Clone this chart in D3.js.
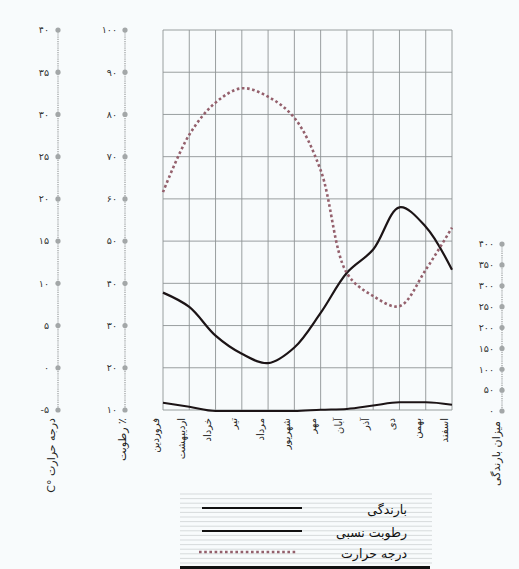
<!DOCTYPE html>
<html><head><meta charset="utf-8">
<script src="https://cdn.jsdelivr.net/npm/d3@7"></script>
<style>body{margin:0;background:#f8fbfc;}svg{display:block;}</style>
</head><body>
<svg id="c" width="519" height="569"></svg>
<script>
const months = ["فروردین","اردیبهشت","خرداد","تیر","مرداد","شهریور","مهر","آبان","آذر","دی","بهمن","اسفند"];
const temperature = [20.8, 27.6, 31.4, 33.1, 32.1, 29.6, 23.4, 11.2, 8.5, 7.3, 11.6, 16.6];
const humidity = [37.8, 34.4, 27.6, 23.3, 21.1, 24.8, 33, 42.5, 48, 58, 53.4, 43.2];
const rainfall = [20, 10, 0, 0, 0, 0, 3, 5, 13, 21, 21, 15];
const tempTicks = [-5, 0, 5, 10, 15, 20, 25, 30, 35, 40];
const humTicks = [10, 20, 30, 40, 50, 60, 70, 80, 90, 100];
const rainTicks = [0, 50, 100, 150, 200, 250, 300, 350, 400];
const legendItems = ["بارندگی", "رطوبت نسبی", "درجه حرارت"];
const titles = {temp: "C° درجه حرارت", hum: "رطوبت ٪", rain: "میزان بارندگی"};

const fa = n => String(n).replace(/\d/g, d => "۰۱۲۳۴۵۶۷۸۹"[d]);
const svg = d3.select("#c");
const FONT = "DejaVu Sans";

const x = d3.scalePoint().domain(months).range([163, 452]);
const yT = d3.scaleLinear().domain([-5, 40]).range([410, 30]);
const yH = d3.scaleLinear().domain([10, 100]).range([410, 30]);
const yR = d3.scaleLinear().domain([0, 400]).range([411, 244]);

// grid
const g = svg.append("g");
g.selectAll("line.h").data(humTicks).join("line")
  .attr("x1", 163).attr("x2", 452).attr("y1", d => yH(d)).attr("y2", d => yH(d))
  .attr("stroke", "#8f9495").attr("stroke-width", 0.9);
g.selectAll("line.v").data(months).join("line")
  .attr("x1", d => x(d)).attr("x2", d => x(d)).attr("y1", 30).attr("y2", 410)
  .attr("stroke", "#8f9495").attr("stroke-width", 0.9);

// dotted vertical axes with dot ticks
function dotAxis(xpos, scale, ticks, labelX) {
  const a = svg.append("g");
  const ext = d3.extent(ticks.map(scale));
  a.append("line").attr("x1", xpos).attr("x2", xpos).attr("y1", ext[0]).attr("y2", ext[1])
    .attr("stroke", "#a0a4a5").attr("stroke-width", 1.3).attr("stroke-dasharray", "1.2,1");
  a.selectAll("circle").data(ticks).join("circle")
    .attr("cx", xpos).attr("cy", d => scale(d)).attr("r", 2.6).attr("fill", "#a3a7a8");
  a.selectAll("text").data(ticks).join("text")
    .attr("x", labelX).attr("y", d => scale(d)).attr("dy", "0.35em")
    .attr("text-anchor", "end").attr("font-family", FONT).attr("font-size", 9.5)
    .attr("fill", "#333").text(d => d < 0 ? "-" + fa(-d) : fa(d));
}
dotAxis(58, yT, tempTicks, 49);
dotAxis(125, yH, humTicks, 117);
dotAxis(502, yR, rainTicks, 494);

// axis titles
function vTitle(xp, yp, txt, size) {
  svg.append("text").attr("transform", `translate(${xp},${yp}) rotate(-90)`)
    .attr("text-anchor", "end").attr("dy", "0.35em").attr("font-family", FONT)
    .attr("font-size", size).attr("fill", "#222").text(txt);
}
vTitle(51, 418, titles.temp, 11);
vTitle(122, 418, titles.hum, 11);
vTitle(496, 421, titles.rain, 11);

// month labels
svg.selectAll("text.m").data(months).join("text")
  .attr("transform", d => `translate(${x(d) - 8},418) rotate(-90)`)
  .attr("text-anchor", "end").attr("dy", "0.35em").attr("font-family", FONT)
  .attr("font-size", 10).attr("fill", "#222").text(d => d);

// lines
svg.append("path").datum(rainfall)
  .attr("d", d3.line().x((d, i) => x(months[i])).y(d => yR(d)).curve(d3.curveMonotoneX))
  .attr("fill", "none").attr("stroke", "#1c1416").attr("stroke-width", 2);
svg.append("path").datum(humidity)
  .attr("d", d3.line().x((d, i) => x(months[i])).y(d => yH(d)).curve(d3.curveCatmullRom))
  .attr("fill", "none").attr("stroke", "#1c1416").attr("stroke-width", 2.2);
svg.append("path").datum(temperature)
  .attr("d", d3.line().x((d, i) => x(months[i])).y(d => yT(d)).curve(d3.curveCatmullRom))
  .attr("fill", "none").attr("stroke", "#94606c").attr("stroke-width", 2.6)
  .attr("stroke-dasharray", "2.6,2.6");

// legend
const L = svg.append("g");
L.selectAll("line.r").data(d3.range(494, 566, 4.6)).join("line")
  .attr("x1", 180).attr("x2", 432).attr("y1", d => d).attr("y2", d => d)
  .attr("stroke", "#c8cdce").attr("stroke-width", 0.7);
L.append("rect").attr("x", 180).attr("y", 566).attr("width", 250).attr("height", 3).attr("fill", "#111");
const ly = [508, 531, 552];
legendItems.forEach((t, i) => {
  L.append("line").attr("x1", i === 2 ? 199 : 202).attr("x2", i === 2 ? 297 : 302)
    .attr("y1", ly[i]).attr("y2", ly[i])
    .attr("stroke", i === 2 ? "#94606c" : "#111").attr("stroke-width", i === 2 ? 2.4 : 2)
    .attr("stroke-dasharray", i === 2 ? "2.6,2.6" : null);
  L.append("text").attr("x", 407).attr("y", ly[i] + 2).attr("dy", "0.35em")
    .attr("text-anchor", "end").attr("font-family", FONT).attr("font-size", 12.5)
    .attr("fill", "#111").text(t);
});
</script>
</body></html>
